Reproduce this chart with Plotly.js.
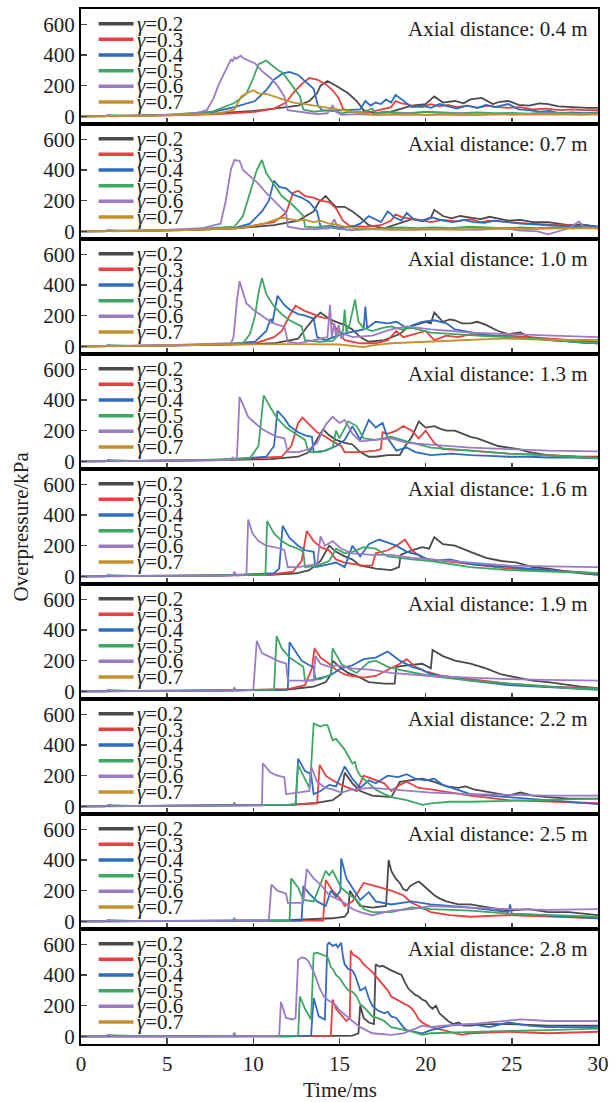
<!DOCTYPE html>
<html><head><meta charset="utf-8">
<script src="https://cdn.plot.ly/plotly-3.0.1.min.js"></script>
<style>html,body{margin:0;padding:0;background:#fff}#chart{width:616px;height:1102px}</style>
</head><body><div id="chart"></div>
<script>
const distances = ['0.4','0.7','1.0','1.3','1.6','1.9','2.2','2.5','2.8'];
const gammas = ['0.2','0.3','0.4','0.5','0.6','0.7'];
const colors = ['#4a4a4a','#e8403f','#2f6bbf','#3fa764','#9a7bc4','#c4922d'];
const yTicks = [0,200,400,600];
const xTicks = [0,5,10,15,20,25,30];

// ---- Panel 1: 0.4 m ----
const T1_02=[0,2,4,6,8,10,11.2,12.6,13.25,13.7,13.9,14.3,14.8,15.5,16.0,16.4,17.1,18.0,18.6,19.2,20.0,20.5,21.0,21.7,22.2,22.6,23.25,23.9,24.3,24.8,25.4,26.0,26.6,27.1,27.7,28.25,28.8,29.4,30];
const P1_02=[0,2,5,10,20,35,50,70,100,150,200,230,200,150,100,40,20,30,50,70,80,130,90,100,85,110,120,80,95,100,75,70,85,80,65,60,58,55,55];
const T1_03=[0,3,6,8,10.1,11.2,11.9,12.3,12.8,13.25,13.7,14.2,14.6,14.95,15.2,15.6,16.2,16.9,17.5,18.0,18.25,18.6,18.9,19.3,19.8,20.3,20.8,21.3,21.8,22.4,23.0,23.6,24.2,24.8,25.5,26.2,27.0,27.8,28.5,29.2,30];
const P1_03=[0,3,8,15,30,50,90,150,210,250,240,210,170,120,50,30,25,30,45,60,100,85,80,65,60,80,65,75,60,70,55,70,60,55,60,45,50,40,45,40,40];
const T1_04=[0,3,6,7.5,8.9,10.1,10.75,11.2,11.7,12.1,12.6,13.0,13.5,13.75,14.0,14.6,15.3,16.2,16.5,16.8,17.1,17.4,17.7,18.0,18.25,18.7,19.2,19.8,20.3,20.8,21.3,21.8,22.4,23.0,23.5,24.0,24.8,25.4,26.0,26.6,27.2,27.8,28.5,29.2,30];
const P1_04=[0,3,10,25,60,100,170,240,280,290,270,230,180,70,40,35,40,45,100,70,90,80,110,90,140,100,60,70,55,80,65,50,70,55,75,60,80,45,40,30,35,20,25,20,25];
const T1_05=[0,1.4,1.6,3,5,7.6,8.9,9.6,10.0,10.3,10.5,10.75,10.95,11.2,11.45,11.7,12.2,12.7,12.9,13.5,14.0,14.6,15.1,15.7,16.3,16.9,17.1,17.6,18.2,19.0,20.0,21.0,22.0,23.0,24.0,25.0,26.0,27.0,28.0,29.0,30];
const P1_05=[0,0,8,3,10,30,87,148,250,340,350,364,345,320,300,284,207,131,44,30,35,40,20,30,25,50,20,30,25,20,30,25,20,25,20,22,18,25,20,18,20];
const T1_06=[0,1.4,1.6,1.8,4,6.66,7.3,7.7,8.0,8.4,8.55,8.7,8.8,8.9,9.0,9.27,9.4,9.6,10.1,10.5,11.0,11.4,11.8,12.0,12.5,13.0,13.7,14.3,14.6,14.8,15.1,16,17,18,19,20,21,22,23,24,25,26,27,28,29,30];
const P1_06=[0,0,10,0,5,20,40,120,210,300,340,370,360,385,375,395,380,370,345,295,250,200,130,40,30,25,15,20,70,30,10,15,10,15,20,10,15,20,10,15,10,15,20,15,10,15];
const T1_07=[0,3,5,6.5,7.8,8.2,8.9,9.3,9.6,10.0,10.3,10.8,11.2,11.7,12.3,13.0,13.5,14.0,14.6,15.2,15.75,16.4,16.9,18,19,20,21,22,23,24,25,26,27,28,29,30];
const P1_07=[0,2,6,12,18,25,45,130,150,170,150,145,130,110,90,80,70,60,50,40,30,20,12,10,8,10,12,8,10,12,15,12,10,12,15,12];

// ---- Panel 2: 0.7 m ----
const T2_02=[0,3,6,9,11.2,12.6,13.5,13.8,14.2,14.6,14.8,15.3,15.75,16.2,16.7,17.6,18.4,19.2,19.8,20.3,20.5,21.0,21.5,22.0,22.6,23.2,23.7,24.3,24.8,25.5,26.2,27.1,27.7,28.3,29.0,30];
const P2_02=[0,3,8,20,40,70,130,190,230,180,160,160,130,90,40,20,50,80,70,90,140,100,85,100,90,80,95,80,70,75,60,60,50,40,45,30];
const T2_03=[0,3,6,9,11.2,11.9,12.3,12.6,13.0,13.5,13.9,14.4,14.8,15.2,15.6,16.5,17.4,18.0,18.25,18.7,19.4,20.3,21.0,21.8,22.6,23.2,23.7,24.3,24.8,25.5,26.0,27.0,28.25,29.0,30];
const P2_03=[0,3,8,20,60,120,250,265,230,220,200,190,150,70,35,30,40,70,110,90,80,60,75,65,80,60,70,65,60,55,50,45,40,35,30];
const T2_04=[0,3,6,9,9.8,10.5,10.9,11.2,11.5,11.9,12.3,12.8,13.25,13.7,13.9,14.5,15.0,15.75,16.2,16.7,17.1,17.4,17.8,18.2,18.6,18.9,19.3,19.8,20.4,21.0,21.6,22.2,22.8,23.4,24.0,24.8,25.5,26.3,27.0,27.8,28.5,29.3,30];
const P2_04=[0,3,8,25,50,130,200,330,290,280,240,220,190,130,30,35,25,30,50,100,80,60,130,90,70,120,80,65,90,70,60,75,60,55,70,60,50,45,40,35,30,40,25];
const T2_05=[0,1.4,1.6,3,6,8.9,9.4,9.8,10.2,10.5,10.75,11.2,11.65,12.3,12.9,13.0,13.6,14.2,15.0,15.8,16.5,17.5,18.5,19.5,20.5,21.5,22.5,23.5,24.5,25.5,26.5,27.5,28.5,29.3,30];
const P2_05=[0,0,8,3,10,30,100,250,400,465,380,305,230,170,100,30,25,30,15,10,15,20,25,20,25,20,30,25,20,25,20,25,20,25,20];
const T2_06=[0,1.4,1.6,1.8,4,7,8.1,8.4,8.7,8.9,9.2,9.4,9.8,10.3,10.75,11.2,11.65,11.9,12.0,12.8,13.6,14.4,14.7,14.9,15.5,17,19,21,23,24.5,25.5,26.5,27.1,27.6,28.3,28.9,29.2,30];
const P2_06=[0,0,10,0,5,20,50,200,404,465,460,400,360,310,250,200,150,120,30,15,15,20,80,20,10,15,10,15,10,20,5,0,-20,-5,20,65,25,20];
const T2_07=[0,3,6,9,10,10.75,11.2,11.65,12.1,12.6,13.0,13.5,13.9,14.4,14.8,15.3,16.0,16.9,18,20,22,24,26,28,30];
const P2_07=[0,3,8,20,35,55,70,90,80,70,75,60,70,50,45,30,20,15,12,15,12,18,15,20,20];

// ---- Panel 3: 1.0 m ----
const T3_02=[0,4,8,11.2,12.6,13.0,13.5,13.9,14.4,14.8,15.3,15.75,16.2,16.7,17.6,18.5,18.9,19.4,20.0,20.3,20.5,21.0,21.4,21.7,22.1,22.6,23.0,23.5,24.2,24.8,25.5,26.0,27.1,28.0,29.0,30];
const P3_02=[0,3,10,20,50,110,180,220,180,160,140,110,60,30,40,80,120,140,160,150,220,160,175,170,150,150,160,140,100,80,90,60,40,35,25,20];
const T3_03=[0,4,8,10.1,11.2,11.65,12.1,12.45,13.0,13.5,13.9,14.4,14.8,15.3,16.2,17.1,17.8,18.3,18.7,19.4,20.0,20.5,21.2,21.9,22.6,23.5,24.8,26.0,27.1,28.5,30];
const P3_03=[0,3,10,20,60,100,200,265,230,210,190,180,120,40,20,20,40,100,60,80,100,40,70,60,80,70,70,60,50,40,30];
const T3_04=[0,4,8,10.1,10.75,11.0,11.1,11.4,11.8,12.1,12.6,13.0,13.5,13.7,14.2,15.1,16.0,16.4,16.5,16.6,17.1,17.8,18.3,18.9,19.3,19.8,20.5,21.2,21.7,22.6,23.5,24.8,26.0,27.1,28.5,30];
const P3_04=[0,3,10,30,100,180,150,330,270,240,210,200,180,60,40,80,100,110,260,120,160,150,160,120,140,160,170,150,110,90,75,60,50,40,30,20];
const T3_05=[0,1.4,1.6,3,6,9.4,9.8,10.1,10.3,10.5,10.75,11.2,11.65,12.1,12.8,13.0,13.8,14.6,15.2,15.3,15.4,15.6,15.9,16.1,16.4,16.9,17.5,18.0,18.6,19.2,20.3,21.5,22.6,23.7,24.8,26.0,27.1,28.5,30];
const P3_05=[0,0,8,3,8,20,80,200,350,445,340,260,210,170,130,40,30,35,100,240,90,150,305,160,120,100,120,130,110,120,90,80,70,65,60,50,40,30,20];
const T3_06=[0,1.4,1.6,1.8,4,8.7,8.85,9.05,9.2,9.4,9.6,10.1,10.5,11.0,11.4,11.8,12.0,12.6,13.5,14.3,14.45,14.55,14.7,14.8,14.95,15.1,15.3,15.75,16.9,18.0,18.9,20.3,21.5,22.6,24.8,27.1,30];
const P3_06=[0,0,10,0,5,20,60,300,425,350,280,230,200,160,140,130,30,20,40,60,270,60,150,60,140,50,80,60,70,110,130,110,100,90,80,70,60];
const T3_07=[0,5,10,12,15,16.4,17,18,20,22,24,25,26,28,29,30];
const P3_07=[0,5,12,15,12,-5,8,20,30,40,48,50,45,42,40,42];

// ---- Panel 4: 1.3 m ----
const T4_02=[0,4,8,11,12.6,13.25,13.7,14.05,14.4,14.8,15.3,15.75,16.2,16.7,17.1,17.8,18.5,18.7,19.2,19.6,20.0,20.5,20.9,21.2,21.7,22.1,22.6,23.0,23.5,24.2,24.8,25.4,26.0,27.1,28,29,30];
const P4_02=[0,3,8,15,30,60,150,210,170,140,120,110,60,30,30,40,40,80,160,260,220,230,210,200,200,180,160,150,130,100,90,80,60,40,35,30,30];
const T4_03=[0,4,8,11.65,12.2,12.6,12.85,13.25,13.7,14.2,14.6,15.1,15.3,16.2,17.1,17.4,17.5,17.8,18.3,18.7,19.2,19.6,20.0,20.5,21.0,22.6,24.8,27.1,28.5,30];
const P4_03=[0,3,8,30,100,250,285,240,190,160,130,100,60,60,70,80,190,180,200,230,200,150,200,120,80,70,50,40,30,25];
const T4_04=[0,4,8,10.75,11.2,11.4,11.8,12.1,12.6,13.0,13.4,13.5,14.2,14.8,15.3,15.75,16.2,16.7,17.1,17.5,17.8,18.3,18.9,19.4,20.3,21.5,22.6,23.7,24.8,26.0,27.1,28.5,30];
const P4_04=[0,3,8,30,100,330,280,230,190,170,160,60,70,100,140,230,140,270,220,250,150,70,90,60,40,50,40,35,30,30,25,25,20];
const T4_05=[0,1.4,1.6,3,6,9.8,10.3,10.5,10.6,11.0,11.4,11.9,12.6,13.0,13.2,13.9,14.6,14.8,15.0,15.5,16.0,16.4,17.1,18.0,18.9,20.3,21.5,22.6,23.7,24.8,26.0,27.1,28.5,30];
const P4_05=[0,0,8,3,5,20,100,300,430,350,280,220,170,140,60,60,90,200,150,260,230,150,140,160,130,90,80,70,60,50,45,40,30,20];
const T4_06=[0,1.4,1.6,1.8,4,8.6,8.8,8.95,9.05,9.2,9.4,9.7,10.1,10.5,11.0,11.4,11.8,12.0,12.6,13.25,13.7,14.2,14.6,15.0,15.3,15.75,16.2,17.1,18.0,18.9,20.3,22.6,24.8,27.1,30];
const P4_06=[0,0,10,0,5,8,25,10,30,420,370,290,250,210,180,160,150,60,60,80,120,240,290,250,270,180,130,140,150,120,110,90,80,70,65];

// ---- Panel 5: 1.6 m ----
const T5_02=[0,4,8,11,12.5,13.25,13.9,14.4,14.8,15.3,15.75,16.2,16.7,17.1,18.0,18.45,18.55,19.2,19.8,20.2,20.5,21.0,21.7,22.1,22.6,23.5,24.4,25.3,26.2,27.1,28.3,29,30];
const P5_02=[0,2,5,10,20,40,100,200,160,130,110,70,60,50,40,60,140,170,190,180,255,210,200,180,160,120,100,90,60,50,30,20,10];
const T5_03=[0,4,8,11,12.3,12.8,13.1,13.5,13.9,14.4,14.8,15.3,15.75,16.4,16.9,17.1,17.8,18.3,18.8,19.2,19.8,20.3,22.6,24.8,27.1,28.5,30];
const P5_03=[0,2,5,12,30,100,295,230,190,170,110,90,80,70,70,150,170,200,240,170,120,110,80,50,40,30,20];
const T5_04=[0,4,8,11.2,11.5,11.7,12.1,12.6,13.0,13.5,13.6,14.4,14.8,15.3,15.75,16.2,16.7,17.3,17.8,18.3,18.9,19.6,20.3,21.4,22.6,24.8,27.1,28.5,30];
const P5_04=[0,2,5,20,50,330,250,200,170,160,60,80,90,60,200,130,210,240,220,200,160,140,100,110,80,60,40,30,15];
const T5_05=[0,1.4,1.6,3,6,10.7,10.8,11.2,11.65,12.1,12.6,12.9,13.0,13.7,14.4,14.8,15.3,15.75,16.4,17.1,17.8,19.2,20.3,22.6,24.8,27.1,28.5,30];
const P5_05=[0,0,8,3,5,10,360,280,230,200,180,160,60,70,100,180,150,160,190,180,130,110,100,60,40,30,25,20];
const T5_06=[0,1.4,1.6,1.8,4,8.8,8.9,9.0,9.6,9.7,9.95,10.3,10.75,11.2,11.65,11.8,12.0,12.6,13.25,13.7,13.9,14.15,14.6,15.1,15.75,16.9,18.0,19.2,20.3,22.6,24.8,27.1,30];
const P5_06=[0,0,10,0,3,5,30,5,10,370,280,230,200,190,180,170,60,60,70,80,260,200,230,180,150,140,140,120,110,90,70,65,60];

// ---- Panel 6: 1.9 m ----
const T6_02=[0,4,8,12,13.5,14.2,14.5,14.6,15.1,15.5,16.0,16.7,17.6,18.2,18.3,18.9,19.8,20.3,20.4,21.0,21.7,22.6,23.5,24.4,25.3,26.2,27.1,28.3,29,30];
const P6_02=[0,2,5,12,30,60,110,200,150,120,100,60,50,50,160,170,180,150,270,230,200,180,150,110,90,70,60,40,30,20];
const T6_03=[0,4,8,12,13.0,13.4,13.55,13.9,14.4,14.8,15.3,15.75,16.4,17.1,18.0,18.5,18.9,19.4,20.0,21.0,22.6,24.8,27.1,28.5,30];
const P6_03=[0,2,5,15,40,150,280,220,180,140,110,100,90,100,150,180,210,160,130,100,80,50,30,25,20];
const T6_04=[0,4,8,11.9,12.0,12.1,12.45,12.8,13.25,13.5,13.6,14.4,15.1,15.75,16.4,17.1,17.8,18.5,19.2,19.8,20.3,22.6,24.8,27.1,28.5,30];
const P6_04=[0,2,5,10,15,320,260,200,170,160,80,100,150,170,210,220,260,200,160,140,110,70,40,30,20,10];
const T6_05=[0,1.4,1.6,3,6,11.2,11.35,11.65,12.1,12.6,12.9,13.0,13.9,14.5,14.6,15.1,15.5,16.0,16.7,17.1,17.8,18.5,19.4,20.3,22.6,24.8,27.1,28.5,30];
const P6_05=[0,0,8,3,5,10,360,280,220,180,160,70,80,110,280,180,150,120,190,200,160,140,120,100,70,50,30,20,15];
const T6_06=[0,1.4,1.6,1.8,4,8.8,8.9,9.0,10.0,10.2,10.5,11.0,11.4,11.9,12.0,12.8,13.5,13.6,13.9,14.4,14.8,15.75,16.9,18.0,19.2,20.3,22.6,24.8,27.1,30];
const P6_06=[0,0,10,0,3,5,25,5,10,330,250,220,200,180,70,70,70,230,180,160,170,150,140,120,110,100,90,80,75,70];

// ---- Panel 7: 2.2 m ----
const T7_02=[0,4,8,12,13.5,14.6,15.1,15.3,15.75,16.2,16.9,18.0,18.5,19.2,19.8,20.5,21.2,21.9,22.3,22.8,23.7,24.8,25.5,26.2,27.1,28.3,29,30];
const P7_02=[0,2,5,10,20,40,80,220,150,100,70,60,160,170,180,160,130,120,130,110,90,70,90,70,60,50,50,50];
const T7_03=[0,4,8,12,13.7,13.85,14.2,14.6,15.1,15.5,16.0,16.4,16.9,17.6,18.0,18.5,18.9,19.6,20.3,22.6,24.8,27.1,28.5,30];
const P7_03=[0,2,5,10,20,270,200,170,140,120,100,200,180,150,100,140,160,120,110,70,40,30,25,20];
const T7_04=[0,4,8,12.3,12.45,12.6,13.0,13.35,13.5,13.9,14.4,14.8,15.3,15.75,16.2,16.7,17.1,17.8,18.4,18.9,19.4,20.0,20.5,21.0,22.6,24.8,27.1,28.5,30];
const P7_04=[0,2,5,8,10,310,230,210,80,100,140,130,260,180,120,170,150,200,190,210,180,170,180,140,80,60,40,25,15];
const T7_05=[0,1.4,1.6,3,6,12.45,12.6,12.9,13.25,13.35,13.5,13.7,13.9,14.1,14.3,14.45,14.6,14.8,15.1,15.3,15.5,15.75,15.9,16.0,16.2,16.7,17.1,17.6,18.0,18.9,19.8,20.3,21.4,22.6,24.8,27.1,28.5,30];
const P7_05=[0,0,8,3,5,10,270,200,120,250,540,530,520,530,530,480,430,440,400,370,330,280,290,240,200,150,110,80,60,40,10,20,30,30,35,40,45,50];
const T7_06=[0,1.4,1.6,1.8,4,8.8,8.9,9.0,10.5,10.55,11.0,11.4,11.8,11.9,12.6,13.25,13.35,13.7,14.2,14.6,15.1,15.75,16.9,18.0,20.3,22.6,24.8,27.1,30];
const P7_06=[0,0,10,0,3,5,25,5,5,280,220,200,190,80,90,100,260,160,120,110,90,110,120,110,90,80,75,70,70];

// ---- Panel 8: 2.5 m ----
const T8_02=[0,4,8,12,14.6,15.3,15.5,15.6,16.2,16.9,17.7,17.85,18.0,18.25,18.5,18.7,18.9,19.1,19.4,19.6,19.8,20.0,20.2,20.5,20.8,21.2,21.9,22.6,23.7,24.8,26.0,27.1,28.3,29,30];
const P8_02=[0,2,5,8,20,30,60,200,100,90,100,400,330,280,250,210,200,230,250,260,240,220,200,170,150,130,110,110,90,70,80,60,60,50,40];
const T8_03=[0,4,8,12,14.05,14.2,14.6,15.1,15.3,15.75,16.4,17.1,18.0,18.7,19.2,19.6,20.3,21.4,22.6,24.8,27.1,28.5,30];
const P8_03=[0,2,5,5,5,270,200,140,100,130,250,230,200,170,120,100,60,40,30,40,30,25,20];
const T8_04=[0,4,8,12.7,12.8,12.9,13.25,13.7,14.2,14.5,14.8,15.05,15.1,15.4,15.75,16.2,16.7,17.1,18.0,19.2,20.3,22.6,24.8,24.9,25.0,27.1,28.5,30];
const P8_04=[0,2,3,5,5,230,180,130,100,200,160,200,410,280,220,140,190,130,110,130,110,90,60,110,50,40,30,20];
const T8_05=[0,1.4,1.6,3,6,12.0,12.1,12.2,12.6,12.9,13.5,14.2,14.4,14.6,15.1,15.5,16.0,16.4,16.9,18.0,19.2,20.3,22.6,24.8,27.1,28.5,30];
const P8_05=[0,0,8,3,3,5,5,280,220,140,130,330,300,330,220,180,140,80,60,60,90,80,70,50,40,35,30];
const T8_06=[0,1.4,1.6,1.8,4,8.8,8.9,9.0,10.9,11.05,11.4,11.9,12.0,12.6,12.9,13.1,13.5,13.9,14.4,14.8,15.3,15.75,16.2,16.9,18.0,19.2,20.3,22.6,24.8,27.1,30];
const P8_06=[0,0,10,0,3,5,20,5,5,240,200,180,120,120,120,340,280,240,170,150,120,80,60,40,70,80,100,90,80,75,80];

// ---- Panel 9: 2.8 m ----
const T9_02=[0,4,8,12,14,15,15.75,16.1,16.2,16.4,16.7,17.0,17.1,17.3,17.5,17.8,18.0,18.2,18.4,18.6,18.8,19.0,19.2,19.4,19.6,19.8,20.0,20.2,20.4,20.6,20.8,21.0,21.3,21.6,21.9,22.2,22.6,23.7,24.8,26.0,27.1,28.5,30];
const P9_02=[0,0,0,0,2,3,5,20,200,120,90,80,470,455,460,440,430,420,410,400,350,310,290,270,260,240,230,200,180,200,150,130,100,80,90,70,70,80,80,75,70,70,70];
const T9_03=[0,4,8,12,14.5,14.6,14.8,15.4,15.6,15.65,15.8,16.0,16.2,16.4,16.6,16.9,17.2,17.5,17.8,18.0,18.3,18.5,18.8,19.0,19.2,19.4,19.6,19.8,20.1,20.3,21.0,22.1,22.6,24.8,27.1,28.5,30];
const P9_03=[0,0,0,0,5,240,180,100,120,560,530,520,500,470,450,420,380,340,300,260,240,230,210,200,180,150,110,90,70,60,40,10,20,30,20,25,30];
const T9_04=[0,4,8,12,13.35,13.5,13.8,14.15,14.3,14.4,14.6,14.8,14.9,15.1,15.2,15.3,15.5,15.75,15.9,16.1,16.2,16.4,16.5,16.7,16.9,17.2,17.6,17.8,18.0,18.3,18.5,18.7,18.9,19.8,20.3,21.4,22.6,23.7,24.8,26.0,27.1,28.5,30];
const P9_04=[0,0,0,0,5,250,130,110,600,610,590,600,580,610,520,470,440,430,400,340,300,310,320,250,200,170,150,160,130,120,90,60,40,20,40,70,80,60,90,70,60,60,60];
const T9_05=[0,1.4,1.6,3,6,12.6,12.7,13.0,13.35,13.5,13.7,14.0,14.3,14.5,14.6,14.8,15.0,15.3,15.5,15.75,16.0,16.2,16.5,16.9,17.2,17.6,17.8,18.0,19.2,19.8,20.3,22.6,24.8,27.1,28.5,30];
const P9_05=[0,0,8,3,0,5,260,180,110,540,545,530,520,450,440,400,380,330,300,290,260,210,180,130,120,100,80,60,30,10,20,30,35,40,45,50];
const T9_06=[0,1.4,1.6,1.8,4,8.8,8.9,9.0,11.5,11.6,11.9,12.3,12.45,12.6,12.8,13.0,13.2,13.5,13.7,13.9,14.1,14.4,14.6,14.8,15.0,15.3,15.5,15.75,16.2,16.9,18.0,18.7,19.4,19.8,20.3,21.0,22.6,24.8,25.5,27.1,30];
const P9_06=[0,0,10,0,0,0,25,0,5,225,120,110,120,500,515,510,490,420,360,300,260,230,220,200,170,140,120,100,60,20,10,20,50,70,60,70,80,100,110,100,100];

const series = [
  [[T1_02,P1_02],[T1_03,P1_03],[T1_04,P1_04],[T1_05,P1_05],[T1_06,P1_06],[T1_07,P1_07]],
  [[T2_02,P2_02],[T2_03,P2_03],[T2_04,P2_04],[T2_05,P2_05],[T2_06,P2_06],[T2_07,P2_07]],
  [[T3_02,P3_02],[T3_03,P3_03],[T3_04,P3_04],[T3_05,P3_05],[T3_06,P3_06],[T3_07,P3_07]],
  [[T4_02,P4_02],[T4_03,P4_03],[T4_04,P4_04],[T4_05,P4_05],[T4_06,P4_06],null],
  [[T5_02,P5_02],[T5_03,P5_03],[T5_04,P5_04],[T5_05,P5_05],[T5_06,P5_06],null],
  [[T6_02,P6_02],[T6_03,P6_03],[T6_04,P6_04],[T6_05,P6_05],[T6_06,P6_06],null],
  [[T7_02,P7_02],[T7_03,P7_03],[T7_04,P7_04],[T7_05,P7_05],[T7_06,P7_06],null],
  [[T8_02,P8_02],[T8_03,P8_03],[T8_04,P8_04],[T8_05,P8_05],[T8_06,P8_06],null],
  [[T9_02,P9_02],[T9_03,P9_03],[T9_04,P9_04],[T9_05,P9_05],[T9_06,P9_06],null]
];

const FONT = '"Liberation Serif", "Times New Roman", Times, serif';
const N = distances.length;
const traces = [];
const layout = {
  width: 616, height: 1102,
  margin: {l: 81, r: 18, t: 9, b: 58},
  paper_bgcolor: '#fff', plot_bgcolor: '#fff',
  showlegend: false, hovermode: false,
  font: {family: FONT, size: 21, color: '#222'},
  annotations: [], shapes: []
};
const panelPx = 1035 / N;
const legendText = gammas.map(g => '<span style="font-size:21px"><i>γ</i>=' + g + '</span>').join('<br>');
for (let i = 0; i < N; i++) {
  const k = i + 1;
  const xs = k === 1 ? 'x' : 'x' + k;
  const ys = k === 1 ? 'y' : 'y' + k;
  series[i].forEach((s, j) => {
    if (!s) return;
    traces.push({
      x: s[0], y: s[1], xaxis: xs, yaxis: ys, type: 'scatter', mode: 'lines',
      name: 'γ=' + gammas[j],
      line: {color: colors[j], width: 1.8}
    });
  });
  const top = 1 - i / N, bot = 1 - (i + 1) / N;
  layout['xaxis' + (k === 1 ? '' : k)] = {
    anchor: ys, range: [0, 30], tickvals: xTicks, ticks: 'inside', ticklen: 6, tickwidth: 1.5,
    showline: true, mirror: true, linewidth: 2, linecolor: '#000', showgrid: false, zeroline: false,
    showticklabels: k === N, tickfont: {family: FONT, size: 21, color: '#222'},
    matches: k === 1 ? undefined : 'x'
  };
  layout['yaxis' + (k === 1 ? '' : k)] = {
    anchor: xs, domain: [bot, top], range: [-50, 700], tickvals: yTicks, ticks: 'inside', ticklen: 6, tickwidth: 1.5,
    showline: true, mirror: true, linewidth: 2, linecolor: '#000', showgrid: false, zeroline: false,
    tickfont: {family: FONT, size: 21, color: '#222'}
  };
  layout.annotations.push({
    xref: xs + ' domain', yref: ys + ' domain', x: 0.985, y: 1 - 20 / panelPx,
    xanchor: 'right', yanchor: 'middle', showarrow: false,
    text: 'Axial distance: ' + distances[i] + ' m', font: {family: FONT, size: 21, color: '#222'}
  });
  gammas.forEach((g, j) => {
    const yy = 1 - (14.7 + 15.65 * j) / panelPx;
    layout.shapes.push({
      type: 'line', xref: xs + ' domain', yref: ys + ' domain',
      x0: 0.034, x1: 0.1017, y0: yy, y1: yy, line: {color: colors[j], width: 3.5}
    });
  });
  layout.annotations.push({
    xref: xs + ' domain', yref: ys + ' domain', x: 0.105, y: 1 - (14.7 + 15.65 * 2.5) / panelPx,
    xanchor: 'left', yanchor: 'middle', align: 'left', showarrow: false,
    text: legendText, font: {family: FONT, size: 12, color: '#222'}
  });
}
layout.annotations.push({
  xref: 'paper', yref: 'paper', x: 0, y: 0.5, xanchor: 'center', yanchor: 'middle',
  xshift: -61, textangle: -90, showarrow: false, text: 'Overpressure/kPa',
  font: {family: FONT, size: 21, color: '#222'}
});
layout.annotations.push({
  xref: 'paper', yref: 'paper', x: 0.5, y: 0, xanchor: 'center', yanchor: 'top',
  yshift: -32, showarrow: false, text: 'Time/ms',
  font: {family: FONT, size: 21, color: '#222'}
});
Plotly.newPlot('chart', traces, layout, {staticPlot: true, displayModeBar: false});
</script></body></html>
